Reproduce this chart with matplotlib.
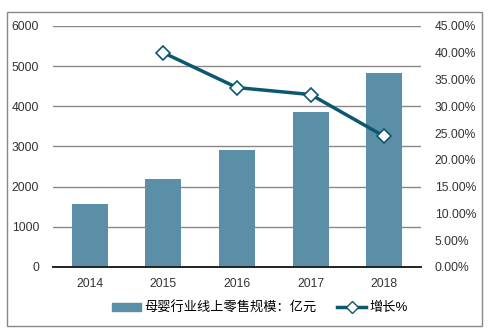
import matplotlib
matplotlib.use('Agg')
import matplotlib.pyplot as plt
from matplotlib.patches import Rectangle
from matplotlib.ticker import FuncFormatter

plt.rcParams['font.family'] = ['Liberation Sans', 'Noto Sans CJK SC']

years = ['2014', '2015', '2016', '2017', '2018']
scale = [1570, 2200, 2920, 3860, 4830]
growth_years = ['2015', '2016', '2017', '2018']
growth = [0.400, 0.335, 0.322, 0.244]

bar_color = '#5b8fa7'
line_color = '#0b5870'
grid_color = '#888888'

fig = plt.figure(figsize=(4.93, 3.34), dpi=100)
ax1 = fig.add_axes([0.1075, 0.2006, 0.7465, 0.7216])
ax2 = ax1.twinx()

x = range(len(years))
ax1.bar(x, scale, width=0.49, color=bar_color, zorder=2)
ax1.set_ylim(0, 6000)
ax1.set_xlim(-0.5, 4.5)
ax1.set_yticks(range(0, 6001, 1000))
ax1.set_xticks(list(x))
ax1.set_xticklabels(years)
ax1.grid(axis='y', color=grid_color, linewidth=1, zorder=0)
ax1.set_axisbelow(True)

gx = [years.index(y) for y in growth_years]
ax2.plot(gx, growth, color=line_color, linewidth=2.5, marker='D', markersize=7,
         markerfacecolor='white', markeredgecolor=line_color, markeredgewidth=1.2, zorder=3)
ax2.set_ylim(0, 0.45)
ax2.set_yticks([i * 0.05 for i in range(10)])
ax2.yaxis.set_major_formatter(FuncFormatter(lambda v, p: '%.2f%%' % (v * 100)))

for ax in (ax1, ax2):
    for s in ('top', 'left', 'right'):
        ax.spines[s].set_visible(False)
    ax.spines['bottom'].set_color('#222222')
    ax.spines['bottom'].set_linewidth(1.2)
    ax.tick_params(length=0, labelsize=8.7, colors='#333333')
ax1.tick_params(axis='y', pad=10)
ax1.tick_params(axis='x', pad=8)
ax2.tick_params(axis='y', pad=10)

h1 = Rectangle((0, 0), 1, 1, color=bar_color)
h2, = ax2.plot([], [], color=line_color, linewidth=2.5, marker='D', markersize=6,
               markerfacecolor='white', markeredgecolor=line_color)
fig.legend([h1, h2], ['母婴行业线上零售规模：亿元', '增长%'], loc='center',
           bbox_to_anchor=(0.527, 0.078), ncol=2, frameon=False, fontsize=9.5,
           handlelength=2.2, handleheight=0.5, columnspacing=1.6, handletextpad=0.2)

fig.add_artist(Rectangle((0.015, 0.025), 0.962, 0.94, transform=fig.transFigure,
                         fill=False, edgecolor='#888888', linewidth=1))

fig.savefig('out.png', dpi=100)
